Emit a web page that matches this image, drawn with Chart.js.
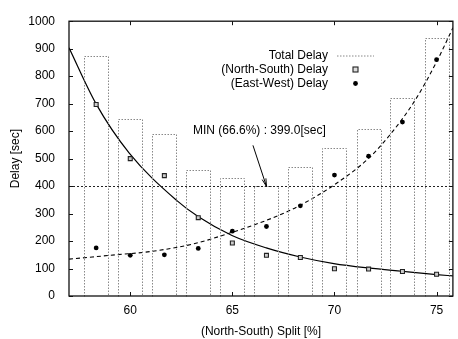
<!DOCTYPE html>
<html>
<head>
<meta charset="utf-8">
<script src="https://cdn.jsdelivr.net/npm/chart.js@4"></script>
<style>
  html, body { margin: 0; padding: 0; background: #fff; }
  #wrap { width: 458px; height: 339px; }
</style>
</head>
<body>
<div id="wrap"><canvas id="myChart"></canvas></div>
<script>
// (North-South) split [%]
const splits = [58.33, 60, 61.67, 63.33, 65, 66.67, 68.33, 70, 71.67, 73.33, 75];
const totalDelay = [875, 645, 588, 460, 430, 399, 470, 540, 608, 721, 938];
const nsDelay = [697, 500, 438, 285, 193, 148, 140, 99, 98, 89, 79];
const ewDelay = [175, 148, 150, 173, 236, 253, 328, 440, 509, 633, 860];

// fitted curves
const nsFitX = [57, 58.32, 59.95, 62.27, 63.34, 64.98, 66.66, 68.32, 69.97, 71.66, 73.3, 75, 75.8];
const nsFitY = [903, 700, 520, 348, 288, 220, 175, 142, 118, 102, 90, 78, 73];
const ewFitX = [57, 59, 61, 63, 65, 67, 68.32, 70, 71.66, 72.7, 73.92, 75, 75.8];
const ewFitY = [134, 148, 162, 188, 232, 285, 330, 405, 500, 585, 709, 852, 976];

const xTicks = [60, 65, 70, 75];
const yTicks = [0, 100, 200, 300, 400, 500, 600, 700, 800, 900, 1000];

const minSplit = 66.67;
const minDelay = 399.0;
const minLabel = 'MIN (66.6%) : 399.0[sec]';

const FAMILY = '"Liberation Sans", Arial, sans-serif';
const FONT = '12px ' + FAMILY;

function pts(xs, ys) {
    return xs.map((x, i) => ({ x: x, y: ys[i] }));
}

// gnuplot-ish decorations: dotted boxes, frame, inward ticks, min line, label, key
const gnuplotBits = {
    id: 'gnuplotBits',
    afterDatasetsDraw(chart) {
        const ctx = chart.ctx;
        const area = chart.chartArea;
        const xs = chart.scales.x;
        const ys = chart.scales.y;

        // dotted boxes for total delay
        const meta = chart.getDatasetMeta(0);
        ctx.save();
        ctx.strokeStyle = '#888';
        ctx.lineWidth = 1;
        ctx.setLineDash([1.5, 1.5]);
        meta.data.forEach(bar => {
            const p = bar.getProps(['x', 'y', 'base', 'width'], true);
            const l = Math.round(p.x - p.width / 2) + 0.5;
            const r = Math.round(p.x + p.width / 2) + 0.5;
            const t = Math.round(p.y) + 0.5;
            const b = Math.round(p.base) + 0.5;
            ctx.beginPath();
            ctx.moveTo(l, b);
            ctx.lineTo(l, t);
            ctx.lineTo(r, t);
            ctx.lineTo(r, b);
            ctx.stroke();
        });
        ctx.restore();

        // MIN line
        const ym = Math.round(ys.getPixelForValue(minDelay)) + 0.5;
        ctx.save();
        ctx.strokeStyle = '#222';
        ctx.lineWidth = 1;
        ctx.setLineDash([2, 2]);
        ctx.beginPath();
        ctx.moveTo(area.left, ym);
        ctx.lineTo(area.right, ym);
        ctx.stroke();
        ctx.restore();

        // MIN label and arrow
        const tipX = xs.getPixelForValue(minSplit);
        const tipY = ys.getPixelForValue(minDelay);
        const tailX = tipX - 13.5;
        const tailY = tipY - 41;
        ctx.save();
        ctx.fillStyle = '#000';
        ctx.font = FONT;
        ctx.textAlign = 'left';
        ctx.textBaseline = 'middle';
        ctx.fillText(minLabel, 193, 131);
        ctx.strokeStyle = '#000';
        ctx.lineWidth = 1;
        ctx.beginPath();
        ctx.moveTo(tailX, tailY);
        ctx.lineTo(tipX, tipY);
        const ang = Math.atan2(tipY - tailY, tipX - tailX);
        const hl = 8, ha = 0.25;
        ctx.moveTo(tipX - hl * Math.cos(ang - ha), tipY - hl * Math.sin(ang - ha));
        ctx.lineTo(tipX, tipY);
        ctx.lineTo(tipX - hl * Math.cos(ang + ha), tipY - hl * Math.sin(ang + ha));
        ctx.stroke();
        ctx.restore();
    },
    afterDraw(chart) {
        const ctx = chart.ctx;
        const area = chart.chartArea;
        const xs = chart.scales.x;
        const ys = chart.scales.y;

        // frame
        ctx.save();
        ctx.strokeStyle = '#111';
        ctx.lineWidth = 1.3;
        ctx.strokeRect(area.left, area.top, area.right - area.left, area.bottom - area.top);

        // inward ticks, mirrored
        ctx.lineWidth = 1;
        const tl = 4;
        ctx.beginPath();
        xTicks.forEach(v => {
            const px = Math.round(xs.getPixelForValue(v)) + 0.5;
            ctx.moveTo(px, area.bottom); ctx.lineTo(px, area.bottom - tl);
            ctx.moveTo(px, area.top); ctx.lineTo(px, area.top + tl);
        });
        yTicks.forEach(v => {
            const py = Math.round(ys.getPixelForValue(v)) + 0.5;
            ctx.moveTo(area.left, py); ctx.lineTo(area.left + tl, py);
            ctx.moveTo(area.right, py); ctx.lineTo(area.right - tl, py);
        });
        ctx.stroke();
        ctx.restore();

        // key
        const rows = [55.5, 69.5, 83.5];
        const labels = ['Total Delay', '(North-South) Delay', '(East-West) Delay'];
        ctx.save();
        ctx.font = FONT;
        ctx.fillStyle = '#000';
        ctx.textAlign = 'right';
        ctx.textBaseline = 'middle';
        labels.forEach((t, i) => ctx.fillText(t, 328, rows[i]));
        ctx.strokeStyle = '#888';
        ctx.lineWidth = 1;
        ctx.setLineDash([1.5, 1.5]);
        ctx.beginPath();
        ctx.moveTo(337, rows[0] + 0.5);
        ctx.lineTo(374, rows[0] + 0.5);
        ctx.stroke();
        ctx.setLineDash([]);
        ctx.fillStyle = '#ddd';
        ctx.strokeStyle = '#222';
        ctx.lineWidth = 1.1;
        ctx.fillRect(353, rows[1] - 2.5, 5, 5);
        ctx.strokeRect(353, rows[1] - 2.5, 5, 5);
        ctx.fillStyle = '#000';
        ctx.beginPath();
        ctx.arc(355.5, rows[2], 2.4, 0, Math.PI * 2);
        ctx.fill();
        ctx.restore();
    }
};

const ctx = document.getElementById('myChart');

new Chart(ctx, {
    type: 'bar',
    data: {
        datasets: [
            {
                type: 'bar',
                label: 'Total Delay',
                data: pts(splits, totalDelay),
                backgroundColor: 'rgba(0,0,0,0)',
                borderWidth: 0,
                barPercentage: 0.71,
                categoryPercentage: 1,
                order: 10
            },
            {
                type: 'line',
                label: 'NS fit',
                data: pts(nsFitX, nsFitY),
                borderColor: '#000',
                borderWidth: 1.2,
                pointRadius: 0,
                cubicInterpolationMode: 'monotone',
                fill: false,
                order: 3
            },
            {
                type: 'line',
                label: 'EW fit',
                data: pts(ewFitX, ewFitY),
                borderColor: '#000',
                borderWidth: 1.1,
                borderDash: [4, 3],
                pointRadius: 0,
                cubicInterpolationMode: 'monotone',
                fill: false,
                order: 3
            },
            {
                type: 'line',
                label: '(North-South) Delay',
                data: pts(splits, nsDelay),
                showLine: false,
                pointStyle: 'rect',
                pointRadius: 2.8,
                pointBackgroundColor: '#ccc',
                pointBorderColor: '#222',
                pointBorderWidth: 1.1,
                order: 1
            },
            {
                type: 'line',
                label: '(East-West) Delay',
                data: pts(splits, ewDelay),
                showLine: false,
                pointStyle: 'circle',
                pointRadius: 2.4,
                pointBackgroundColor: '#000',
                pointBorderColor: '#000',
                pointBorderWidth: 0,
                order: 1
            }
        ]
    },
    options: {
        responsive: true,
        maintainAspectRatio: false,
        animation: false,
        events: [],
        layout: {
            padding: { top: 14, right: 1, left: 0, bottom: 0 }
        },
        plugins: {
            legend: { display: false },
            tooltip: { enabled: false }
        },
        scales: {
            x: {
                type: 'linear',
                min: 57,
                max: 75.8,
                offset: false,
                grid: { display: false, drawTicks: false },
                border: { display: false },
                afterBuildTicks: s => { s.ticks = xTicks.map(v => ({ value: v })); },
                afterFit: s => { s.height = 43; },
                ticks: {
                    color: '#000',
                    font: { family: FAMILY, size: 12 },
                    padding: 7,
                    maxRotation: 0,
                    callback: v => String(v)
                },
                title: {
                    display: true,
                    text: '(North-South) Split [%]',
                    color: '#000',
                    font: { family: FAMILY, size: 12 },
                    padding: { top: 0, bottom: 0 }
                }
            },
            y: {
                min: 0,
                max: 1000,
                grid: { display: false, drawTicks: false },
                border: { display: false },
                afterBuildTicks: s => { s.ticks = yTicks.map(v => ({ value: v })); },
                afterFit: s => { s.width = 69; },
                ticks: {
                    color: '#000',
                    font: { family: FAMILY, size: 12 },
                    padding: 14,
                    callback: v => String(v)
                },
                title: {
                    display: true,
                    text: 'Delay [sec]',
                    color: '#000',
                    font: { family: FAMILY, size: 12 },
                    padding: { top: 8, bottom: 0 }
                }
            }
        }
    },
    plugins: [gnuplotBits]
});
</script>
</body>
</html>
